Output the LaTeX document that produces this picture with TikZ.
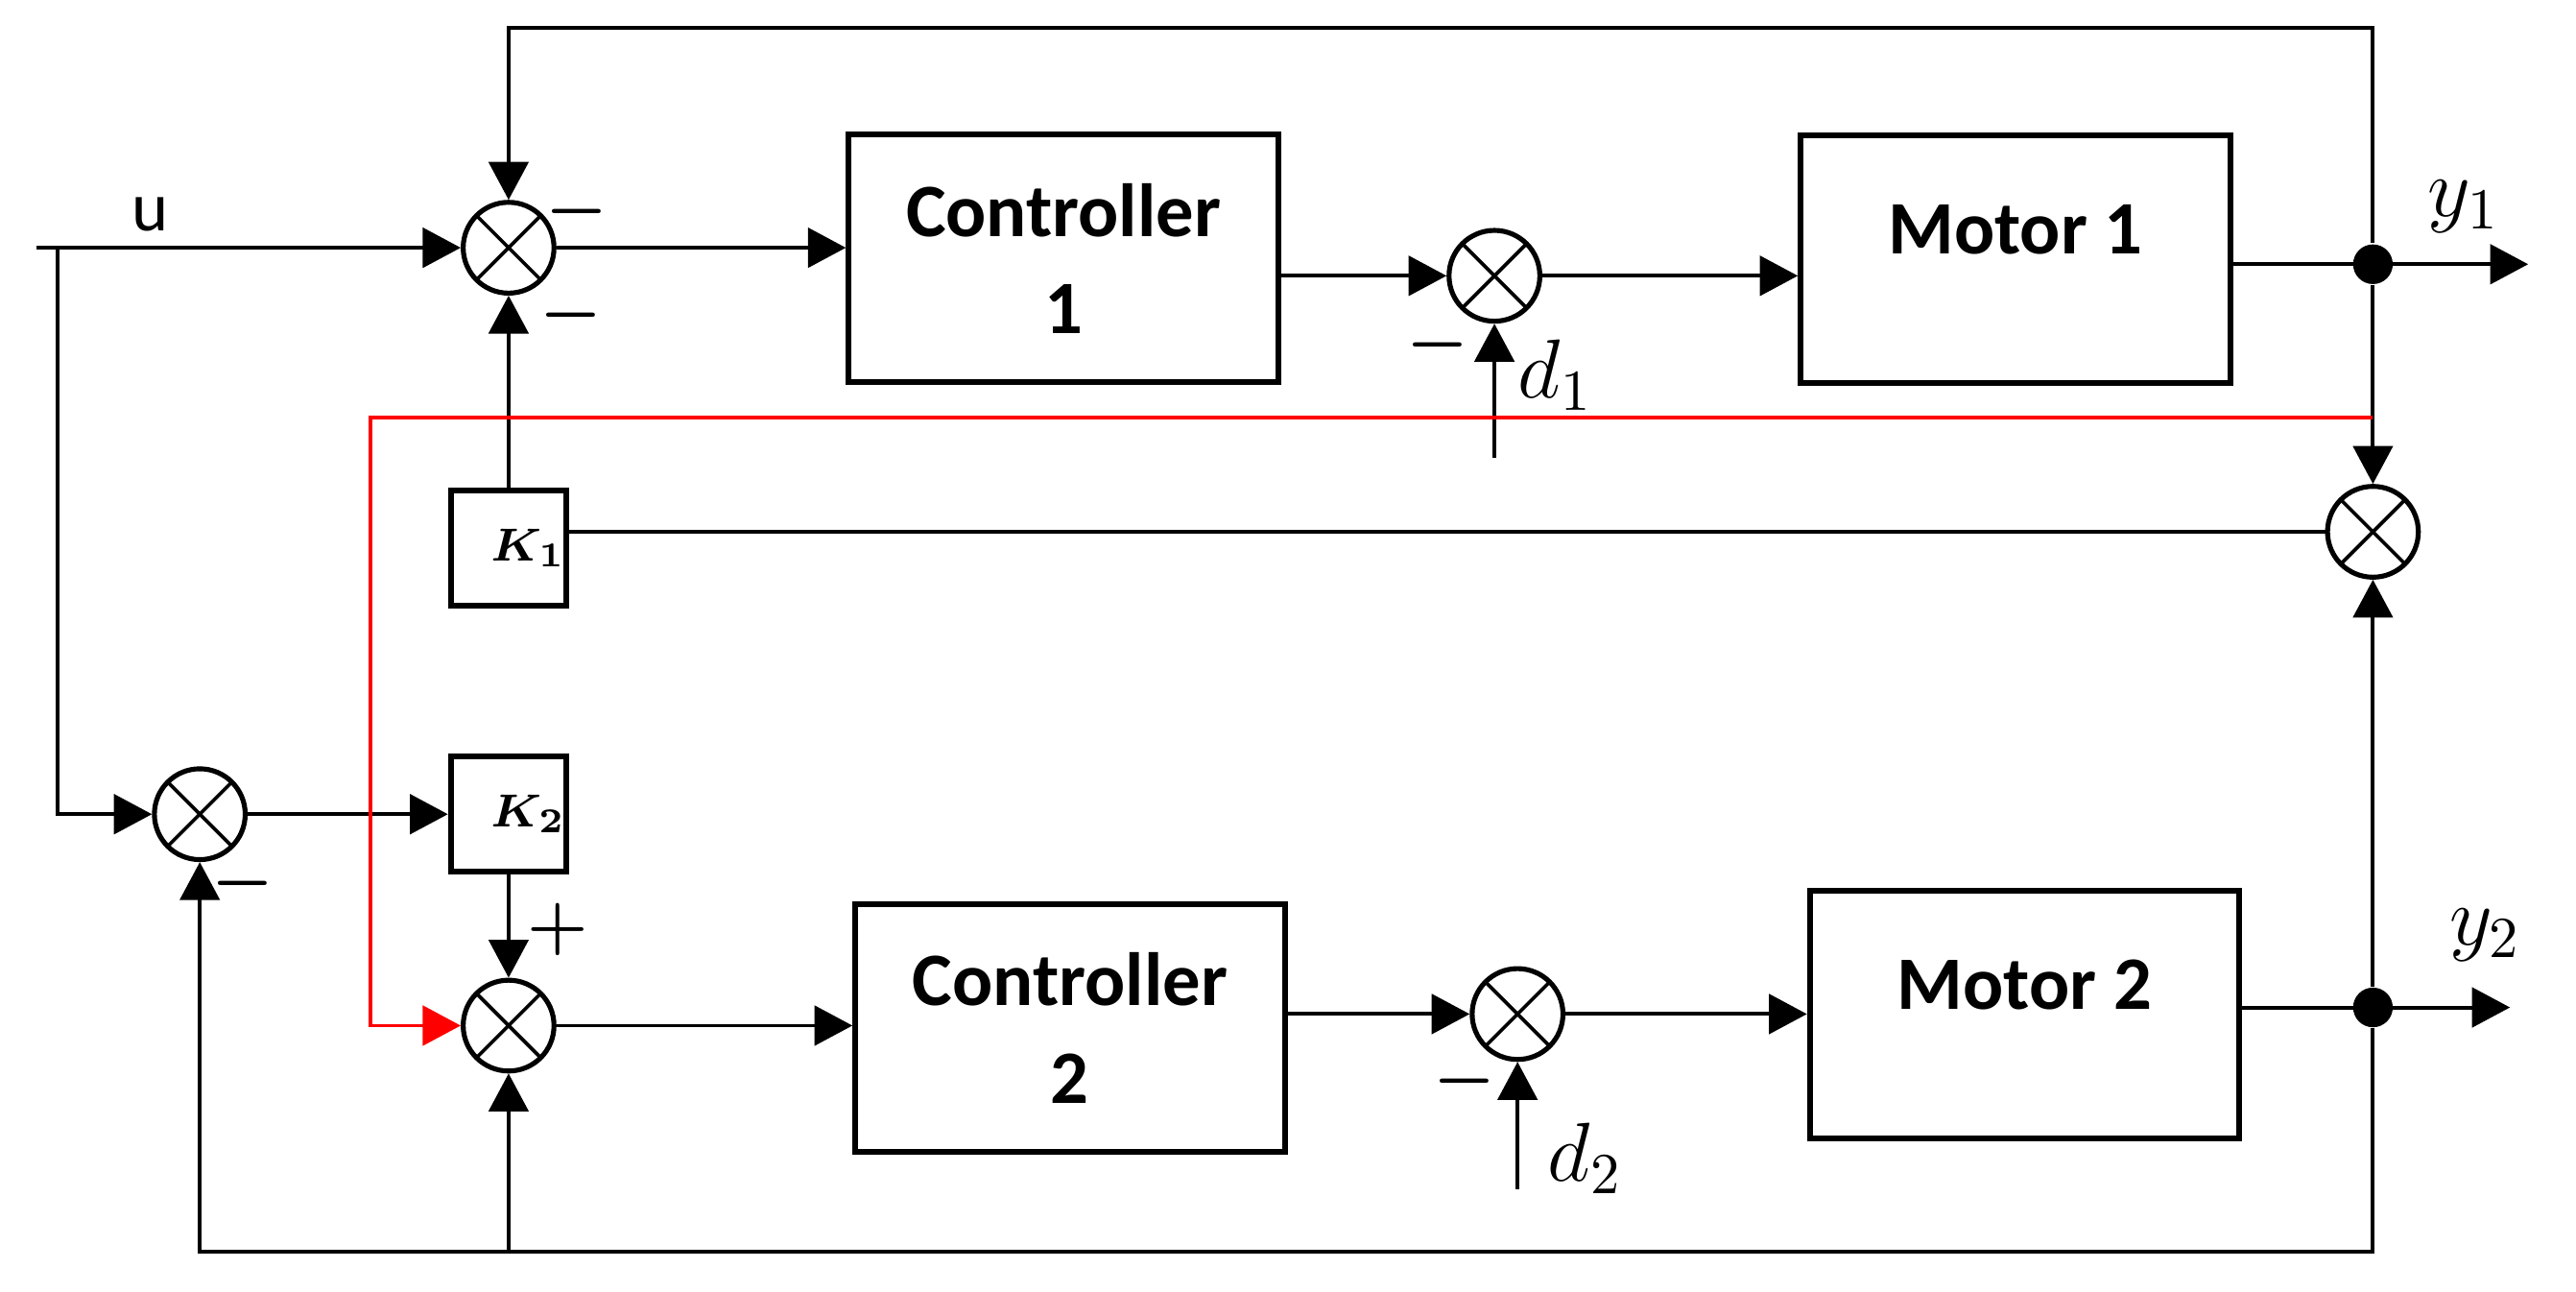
\documentclass[tikz,border=0pt]{standalone}
\usepackage{amsmath, amsfonts, amssymb}
\usepackage{xcolor}
\usepackage{fontspec}
\setmainfont{Carlito}
\usepackage{tikz}
\usetikzlibrary{arrows.meta}

\tikzset{
wire/.style={line width=0.65pt},
sig/.style={wire, -{Triangle[length=2.3mm,width=2.4mm]}},
blk/.style={draw, line width=1pt, minimum width=2.6cm, minimum height=1.5cm, align=center, font=\fontsize{13}{16.8}\selectfont\bfseries},
motorblk/.style={blk, label={[font=\fontsize{13}{16.8}\selectfont\bfseries, yshift=1.8mm]center:#1}},
gainblk/.style={draw, line width=1pt, minimum width=0.7cm, minimum height=0.7cm, inner sep=0pt, label={[font=\fontsize{8.5}{9}\selectfont\boldmath, xshift=1.2mm]center:$#1$}},
sumjn/.style={circle, draw, line width=0.85pt, minimum size=0.55cm, inner sep=0pt, path picture={\draw[line width=0.6pt] (path picture bounding box.north west) -- (path picture bounding box.south east) (path picture bounding box.north east) -- (path picture bounding box.south west);}},
tapdot/.style={circle, fill, minimum size=0.24cm, inner sep=0pt},
signlbl/.style={font=\fontsize{12.5}{14}\selectfont\boldmath},
varname/.style={font=\fontsize{14.5}{16}\selectfont},
}

\begin{document}
\begin{tikzpicture}

\useasboundingbox (0,0) rectangle (15.6,-7.82);

\node[blk] (c1) at (6.44,-1.565) {Controller\\1};
\node[motorblk={Motor 1}] (m1) at (12.205,-1.57) {};
\node[blk] (c2) at (6.48,-6.225) {Controller\\2};
\node[motorblk={Motor 2}] (m2) at (12.26,-6.145) {};

\node[sumjn] (s1) at (3.08,-1.50) {};
\node[sumjn] (s2) at (9.05,-1.67) {};
\node[sumjn] (s3) at (1.21,-4.93) {};
\node[sumjn] (s4) at (14.37,-3.22) {};
\node[sumjn] (s5) at (3.08,-6.21) {};
\node[sumjn] (s6) at (9.19,-6.14) {};

\node[gainblk=K_1] (k1) at (3.08,-3.32) {};
\node[gainblk=K_2] (k2) at (3.08,-4.93) {};

\node[tapdot] (dot1) at (14.37,-1.60) {};
\node[tapdot] (dot2) at (14.37,-6.10) {};

\coordinate (uin) at (0.22,-1.50);
\coordinate (ubr) at (0.35,-1.50);
\coordinate (tr) at (14.37,-0.17);
\coordinate (tl) at (3.08,-0.17);
\coordinate (y1end) at (15.31,-1.60);
\coordinate (y2end) at (15.20,-6.10);
\coordinate (d1in) at (9.05,-2.77);
\coordinate (d2in) at (9.19,-7.20);
\coordinate (tap1) at (14.37,-2.53);
\coordinate (rcorn) at (2.245,-2.53);
\coordinate (br) at (14.37,-7.58);
\coordinate (bm) at (3.08,-7.58);
\coordinate (bl) at (1.21,-7.58);

\draw[sig] (uin) -- (s1);
\draw[sig] (ubr) |- (s3);
\draw[sig] (s1) -- (s1 -| c1.west);
\draw[sig] (c1.east |- s2) -- (s2);
\draw[sig] (s2) -- (s2 -| m1.west);
\draw[sig] (m1.east |- dot1) -- (y1end);
\draw[sig] (d1in) -- (s2);
\draw[sig] (dot1) -- (tr) -- (tl) -- (s1);
\draw[sig] (dot1) -- (s4);
\draw[sig] (k1) -- (s1);
\draw[wire] (s4) -- (s4 -| k1.east);

\draw[sig] (s3) -- (k2);
\draw[sig] (k2) -- (s5);
\draw[sig] (s5) -- (s5 -| c2.west);
\draw[sig] (c2.east |- s6) -- (s6);
\draw[sig] (s6) -- (s6 -| m2.west);
\draw[sig] (m2.east |- dot2) -- (y2end);
\draw[sig] (d2in) -- (s6);
\draw[sig] (dot2) -- (s4);
\draw[sig] (dot2) -- (br) -- (bl) -- (s3);
\draw[sig] (bm) -- (s5);

\draw[sig, red] (tap1) -- (rcorn) |- (s5);

\node[font=\fontsize{12}{14}\selectfont] (ulbl) at (0.91,-1.30) {u};
\node[varname] (y1lbl) at (14.92,-1.25) {$y_1$};
\node[varname] (y2lbl) at (15.05,-5.66) {$y_2$};
\node[varname] (d1lbl) at (9.42,-2.27) {$d_1$};
\node[varname] (d2lbl) at (9.60,-7.015) {$d_2$};

\node[signlbl] (sg1) at (3.49,-1.28) {$-$};
\node[signlbl] (sg2) at (3.46,-1.91) {$-$};
\node[signlbl] (sg3) at (8.705,-2.09) {$-$};
\node[signlbl] (sg4) at (1.47,-5.35) {$-$};
\node[signlbl] (sg5) at (3.38,-5.63) {$+$};
\node[signlbl] (sg6) at (8.87,-6.545) {$-$};

\end{tikzpicture}
\end{document}
